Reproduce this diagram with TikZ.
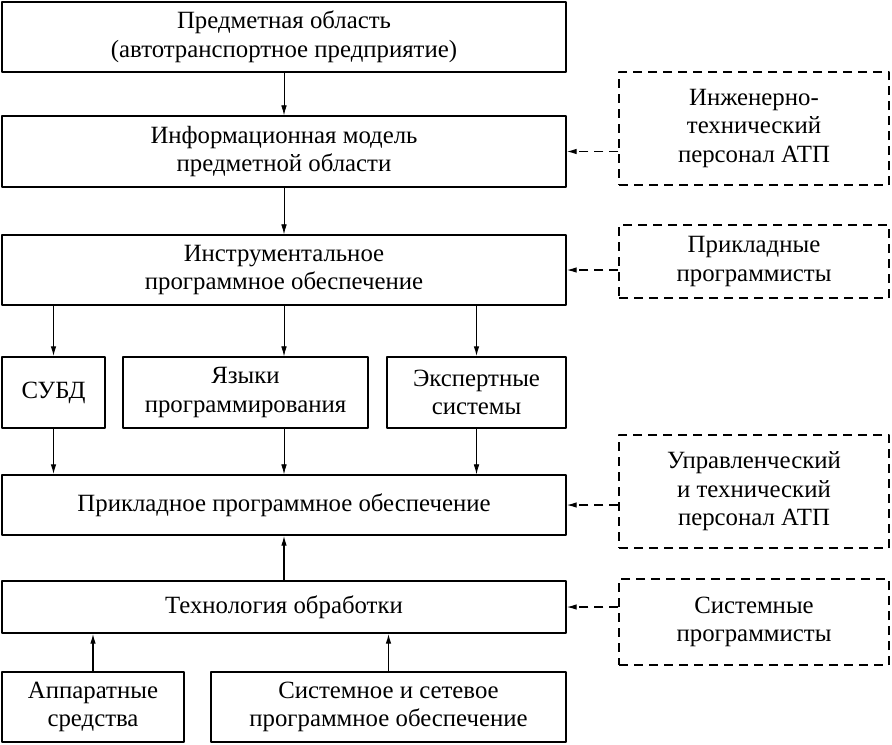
\documentclass[tikz,border=0pt]{standalone}
\usepackage{fontspec}
\setmainfont{Liberation Serif}
\usetikzlibrary{arrows.meta}
\begin{document}
\begin{tikzpicture}[x=.5pt, y=-.5pt, font=\fontsize{12.4}{14.3}\selectfont, line join=round,
 >={Latex[length=5pt,width=2.8pt]},
 block/.style={draw, line width=.7pt, align=center, inner sep=1pt},
 staff/.style={draw, dashed, dash pattern=on 4.5pt off 3pt, line width=.7pt, align=center, inner sep=1pt,
   minimum width=135pt},
 thin/.style={->, line width=.4pt},
 thick/.style={->, line width=.65pt},
 link/.style={->, dashed, dash pattern=on 4.5pt off 3pt, line width=.6pt}]
 \useasboundingbox (0,0) rectangle (892,744);
 % main column
 \node[block, minimum width=282pt, minimum height=35pt] (subj) at (284,37) {Предметная область\\(автотранспортное предприятие)};
 \node[block, minimum width=282pt, minimum height=35.5pt] (model) at (284,151.5) {Информационная модель\\предметной области};
 \node[block, minimum width=282pt, minimum height=35pt] (tools) at (284,270) {Инструментальное\\программное обеспечение};
 \node[block, minimum width=51.5pt, minimum height=35.5pt] (dbms) at (53.5,392.5) {СУБД};
 \node[block, minimum width=122.5pt, minimum height=35.5pt] (lang) at (245.5,392.5) {Языки\\программирования};
 \node[block, minimum width=89.5pt, minimum height=35.5pt] (expert) at (476.5,392.5) {Экспертные\\системы};
 \node[block, minimum width=282pt, minimum height=30pt] (apps) at (284,505) {Прикладное программное обеспечение};
 \node[block, minimum width=282pt, minimum height=26pt] (tech) at (284,607) {Технология обработки};
 \node[block, minimum width=91pt, minimum height=35pt] (hw) at (93,707) {Аппаратные\\средства};
 \node[block, minimum width=177.5pt, minimum height=35pt] (sys) at (388.5,707) {Системное и сетевое\\программное обеспечение};
 % staff
 \node[staff, minimum height=56.5pt] (eng) at (754,128.5) {Инженерно-\\технический\\персонал АТП};
 \node[staff, minimum height=36.5pt] (prog) at (754,261.5) {Прикладные\\программисты};
 \node[staff, minimum height=56.5pt] (mgr) at (754,491.5) {Управленческий\\и технический\\персонал АТП};
 \node[staff, minimum height=43pt] (sysprog) at (754,622) {Системные\\программисты};
 % arrows
 \draw[thin] (subj) -- (model);
 \draw[thin] (model) -- (tools);
 \draw[thick] (tools.south -| dbms) -- (dbms);
 \draw[thin] (tools) -- (tools.south |- lang.north);
 \draw[thick] (tools.south -| expert) -- (expert);
 \draw[thick] (dbms) -- (dbms |- apps.north);
 \draw[thin] (lang.south -| apps) -- (apps);
 \draw[thin] (expert) -- (expert |- apps.north);
 \draw[thick] (tech) -- (apps);
 \draw[thick] (hw) -- (hw |- tech.south);
 \draw[thick] (sys) -- (sys |- tech.south);
 \draw[link] (model.east -| eng.west) -- (model.east);
 \draw[link] (tools.east -| prog.west) -- (tools.east);
 \draw[link] (apps.east -| mgr.west) -- (apps.east);
 \draw[link] (tech.east -| sysprog.west) -- (tech.east);
\end{tikzpicture}
\end{document}
